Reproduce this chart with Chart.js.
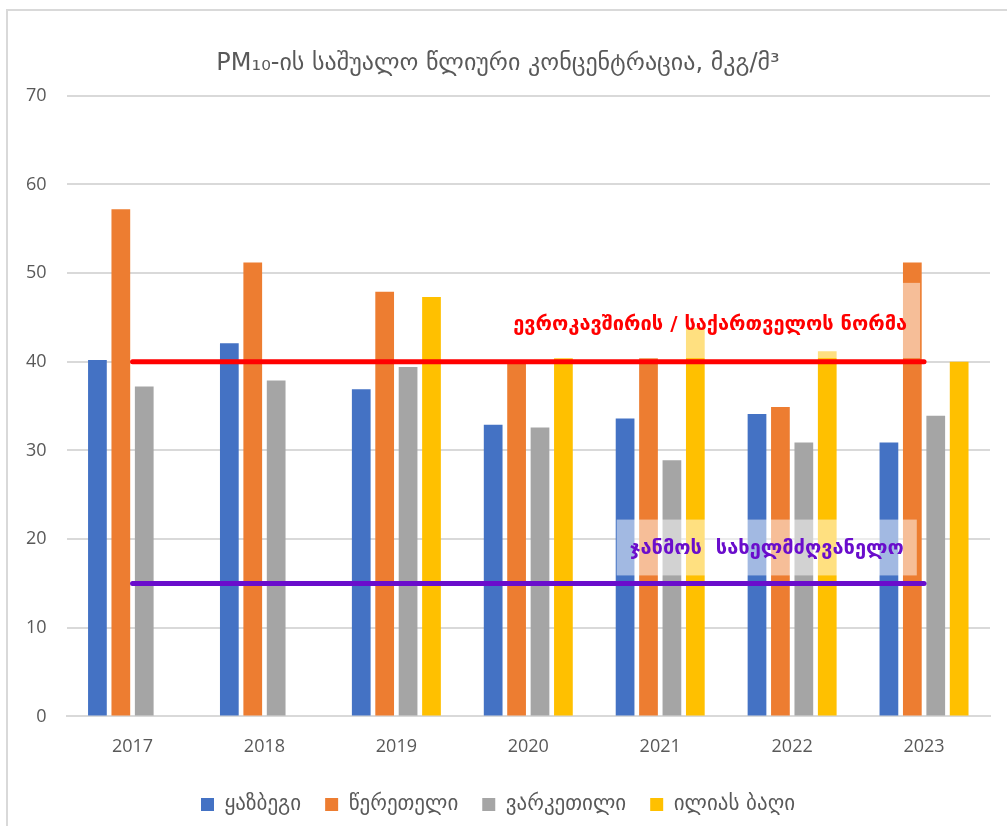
<!DOCTYPE html>
<html>
<head>
<meta charset="utf-8">
<script src="https://cdn.jsdelivr.net/npm/chart.js@4.4.1/dist/chart.umd.min.js"></script>
<style>
  html, body { margin: 0; padding: 0; background: #fff; }
  #wrap { position: relative; width: 1007px; height: 826px; }
  #frame { position: absolute; left: 6px; top: 9px; width: 1020px; height: 840px; border-left: 2px solid #d9d9d9; border-top: 2px solid #d9d9d9; pointer-events: none; }
  canvas { position: absolute; left: 0; top: 0; }
</style>
</head>
<body>
<div id="wrap">
  <canvas id="c" width="1007" height="826"></canvas>
  <div id="frame"></div>
</div>
<script>
const categories = ['2017', '2018', '2019', '2020', '2021', '2022', '2023'];
const seriesNames = ['ყაზბეგი', 'წერეთელი', 'ვარკეთილი', 'ილიას ბაღი'];
const kazbegi    = [40.2, 42.1, 36.9, 32.9, 33.6, 34.1, 30.9];
const tsereteli  = [57.2, 51.2, 47.9, 39.8, 40.4, 34.9, 51.2];
const varketili  = [37.2, 37.9, 39.4, 32.6, 28.9, 30.9, 33.9];
const iliasBagi  = [null, null, 47.3, 40.4, 43.8, 41.2, 40.0];
const euNorm     = [40, 40, 40, 40, 40, 40, 40];
const whoGuide   = [15, 15, 15, 15, 15, 15, 15];
const yTicks     = [0, 10, 20, 30, 40, 50, 60, 70];
const titleText  = 'PM₁₀-ის საშუალო წლიური კონცენტრაცია, მკგ/მ³';
const euLabel    = 'ევროკავშირის / საქართველოს ნორმა';
const whoLabel   = 'ჯანმოს  სახელმძღვანელო';

const colors = ['#4472C4', '#ED7D31', '#A5A5A5', '#FFC000'];
const FONT = "'Open Sans', 'DejaVu Sans', sans-serif";
const GEO = "'DejaVu Sans', sans-serif";

const labelPlugin = {
  id: 'normLabels',
  afterDatasetsDraw(chart) {
    const ctx = chart.ctx;
    const x = chart.scales.x, y = chart.scales.y;
    const step = x.getPixelForValue(1) - x.getPixelForValue(0);
    ctx.save();
    const b1l = x.getPixelForValue(3) - 0.17 * step;
    const b1r = x.getPixelForValue(6) - 0.03 * step;
    const b1t = y.getPixelForValue(48.9);
    const b1b = y.getPixelForValue(40.4);
    ctx.fillStyle = 'rgba(255,255,255,0.5)';
    ctx.fillRect(b1l, b1t, b1r - b1l, b1b - b1t);
    const b2l = x.getPixelForValue(4) - 0.33 * step;
    const b2r = x.getPixelForValue(6) - 0.055 * step;
    const b2t = y.getPixelForValue(22.2);
    const b2b = y.getPixelForValue(15.9);
    ctx.fillRect(b2l, b2t, b2r - b2l, b2b - b2t);
    ctx.textAlign = 'center';
    ctx.textBaseline = 'middle';
    ctx.font = "bold 20px " + GEO;
    ctx.fillStyle = '#FF0000';
    ctx.fillText(euLabel, (x.getPixelForValue(4) + x.getPixelForValue(5)) / 2 - 16, y.getPixelForValue(44.2));
    ctx.fillStyle = '#6A0DCC';
    ctx.fillText(whoLabel, (b2l + b2r) / 2, y.getPixelForValue(18.9));
    ctx.restore();
  }
};

const barDs = (label, data, color) => ({
  type: 'bar', label, data, backgroundColor: color, borderWidth: 0,
  categoryPercentage: 0.71, barPercentage: 0.8, order: 2
});

new Chart(document.getElementById('c'), {
  data: {
    labels: categories,
    datasets: [
      barDs(seriesNames[0], kazbegi, colors[0]),
      barDs(seriesNames[1], tsereteli, colors[1]),
      barDs(seriesNames[2], varketili, colors[2]),
      barDs(seriesNames[3], iliasBagi, colors[3]),
      { type: 'line', label: 'eu', data: euNorm, borderColor: '#FF0000', borderWidth: 5, pointRadius: 0, borderCapStyle: 'round', order: 1 },
      { type: 'line', label: 'who', data: whoGuide, borderColor: '#6A0DCC', borderWidth: 5, pointRadius: 0, borderCapStyle: 'round', order: 1 }
    ]
  },
  options: {
    responsive: false,
    animation: false,
    layout: { padding: { left: 6, right: 17, top: 49, bottom: 1 } },
    plugins: {
      title: {
        display: true, text: titleText, color: '#595959',
        font: { family: GEO, size: 24, weight: 'normal' },
        padding: { top: 0, bottom: 18 }
      },
      legend: {
        position: 'bottom',
        labels: {
          color: '#595959', font: { family: GEO, size: 21 },
          boxWidth: 13, boxHeight: 13, padding: 24,
          filter: (item) => item.datasetIndex < 4
        }
      },
      tooltip: { enabled: false }
    },
    scales: {
      x: {
        grid: { display: false },
        border: { display: true, color: '#d9d9d9', width: 2 },
        ticks: { color: '#595959', font: { family: FONT, size: 18 }, padding: 12 }
      },
      y: {
        min: 0, max: 70,
        afterBuildTicks: (s) => { s.ticks = yTicks.map(v => ({ value: v })); },
        grid: { color: '#d9d9d9', lineWidth: 2, drawTicks: false },
        border: { display: false },
        ticks: { color: '#595959', font: { family: FONT, size: 18 }, padding: 20 }
      }
    }
  },
  plugins: [labelPlugin]
});
</script>
</body>
</html>
